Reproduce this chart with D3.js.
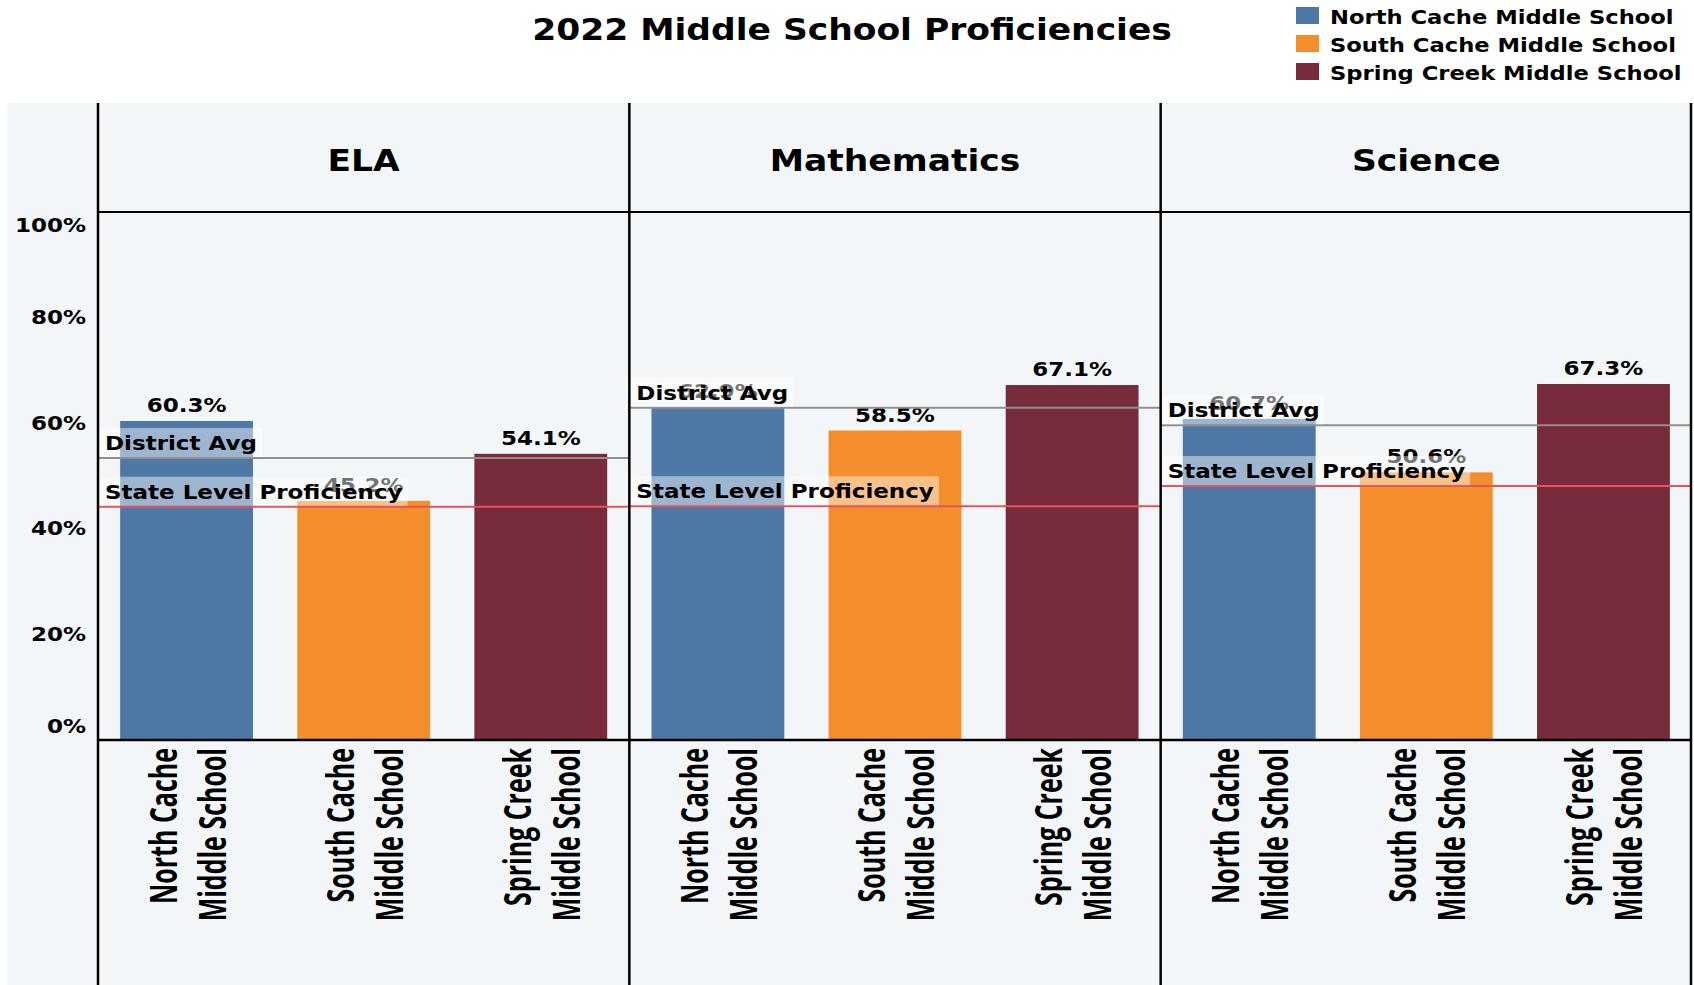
<!DOCTYPE html>
<html>
<head>
<meta charset="utf-8">
<script src="https://cdn.jsdelivr.net/npm/d3@7"></script>
<style>
  body { margin: 0; background: #fff; }
  svg { display: block; }
  text { font-family: "DejaVu Sans", Verdana, sans-serif; font-weight: bold; fill: #000; }
  .cat { font-family: "Open Sans", sans-serif; font-weight: 700; }
</style>
</head>
<body>
<div id="chart"></div>
<script>
// data
var subjects = ["ELA", "Mathematics", "Science"];
var schools = ["North Cache Middle School", "South Cache Middle School", "Spring Creek Middle School"];
var elaValues = [60.3, 45.2, 54.1];
var mathValues = [62.9, 58.5, 67.1];
var scienceValues = [60.7, 50.6, 67.3];
var districtAvg = [53.3, 62.8, 59.5];
var stateLevel = [44.1, 44.2, 48.0];
var yTicks = [0, 20, 40, 60, 80, 100];
var schoolColors = ["#4e79a7", "#f28e2b", "#772b3b"];

var values = [elaValues, mathValues, scienceValues];

var width = 1694, height = 985;
var left = 98, right = 1692, headTop = 103, headBottom = 212, base = 740;
var sx = 1.15; // horizontal text stretch

var svg = d3.select("#chart").append("svg").attr("width", width).attr("height", height);

// stretched text helper
function label(parent, x, y, str, size, anchor, rotate, stretch) {
  var g = parent.append("g")
    .attr("transform", "translate(" + x + "," + y + ") scale(" + (stretch || sx) + ",1)" + (rotate ? " rotate(-90)" : ""));
  return g.append("text").attr("font-size", size).attr("text-anchor", anchor || "start").text(str);
}

// background
svg.append("rect").attr("x", 7).attr("y", headTop).attr("width", right - 7).attr("height", height - headTop)
  .attr("fill", "#f3f6f8");

// title
label(svg, 852, 40, "2022 Middle School Proficiencies", 30, "middle");

// legend
var legend = svg.selectAll(".legend").data(schools).enter().append("g").attr("class", "legend")
  .attr("transform", function(d, i) { return "translate(1296," + (7 + i * 28) + ")"; });
legend.append("rect").attr("width", 23).attr("height", 17).attr("fill", function(d, i) { return schoolColors[i]; });
legend.each(function(d) { label(d3.select(this), 34, 17, d, 19.7, "start"); });

var panel = d3.scaleBand().domain(subjects).range([left, right]);
var y = d3.scaleLinear().domain([0, 100]).range([base, headBottom - 1]);

// y axis labels, clamped inside the plot like the original
yTicks.forEach(function(t) {
  var ty = Math.max(headBottom + 13, Math.min(base - 14, y(t)));
  label(svg, 86, ty + 7, t + "%", 20, "end");
});

subjects.forEach(function(subj, si) {
  var px = panel(subj), pw = panel.bandwidth();
  var g = svg.append("g");
  var x = d3.scaleBand().domain(schools).range([px, px + pw]).paddingInner(0.25).paddingOuter(0.125);

  label(g, px + pw / 2, 171, subj, 30, "middle");

  g.selectAll(".bar").data(values[si]).enter().append("rect")
    .attr("x", function(d, i) { return x(schools[i]); })
    .attr("y", function(d) { return y(d); })
    .attr("width", x.bandwidth())
    .attr("height", function(d) { return base - y(d); })
    .attr("fill", function(d, i) { return schoolColors[i]; });

  values[si].forEach(function(v, i) {
    label(g, x(schools[i]) + x.bandwidth() / 2, y(v) - 9, v.toFixed(1) + "%", 20, "middle");
  });

  // school names, rotated and split in two lines
  schools.forEach(function(s, i) {
    var cx = x(s) + x.bandwidth() / 2;
    var parts = [s.replace(" Middle School", ""), "Middle School"];
    parts.forEach(function(p, k) {
      label(g, cx - 10 + k * 49, 748, p, 25, "end", true, 1.5).attr("class", "cat");
    });
  });

  // reference lines
  var refs = [
    {name: "District Avg", v: districtAvg[si], color: "#8f8f8f"},
    {name: "State Level Proficiency", v: stateLevel[si], color: "#e8525a"}
  ];
  refs.forEach(function(r) {
    g.append("line").attr("x1", px).attr("x2", px + pw).attr("y1", y(r.v)).attr("y2", y(r.v))
      .attr("stroke", r.color).attr("stroke-width", 2);
  });
  refs.forEach(function(r) {
    var box = g.append("rect").attr("fill", "#fff").attr("fill-opacity", 0.45)
      .attr("x", px + 2).attr("y", y(r.v) - 30).attr("height", 29);
    var t = label(g, px + 7, y(r.v) - 8, r.name, 20, "start");
    box.attr("width", t.node().getComputedTextLength() * sx + 10);
  });
});

// frame lines
var frame = svg.append("g").attr("stroke", "#000").attr("stroke-width", 2.5);
panel.domain().forEach(function(s) {
  frame.append("line").attr("x1", panel(s)).attr("x2", panel(s)).attr("y1", headTop).attr("y2", height);
});
frame.append("line").attr("x1", right - 1).attr("x2", right - 1).attr("y1", headTop).attr("y2", height);
frame.append("line").attr("x1", left).attr("x2", right).attr("y1", headBottom).attr("y2", headBottom).attr("stroke-width", 2);
frame.append("line").attr("x1", left).attr("x2", right).attr("y1", base).attr("y2", base);
</script>
</body>
</html>
